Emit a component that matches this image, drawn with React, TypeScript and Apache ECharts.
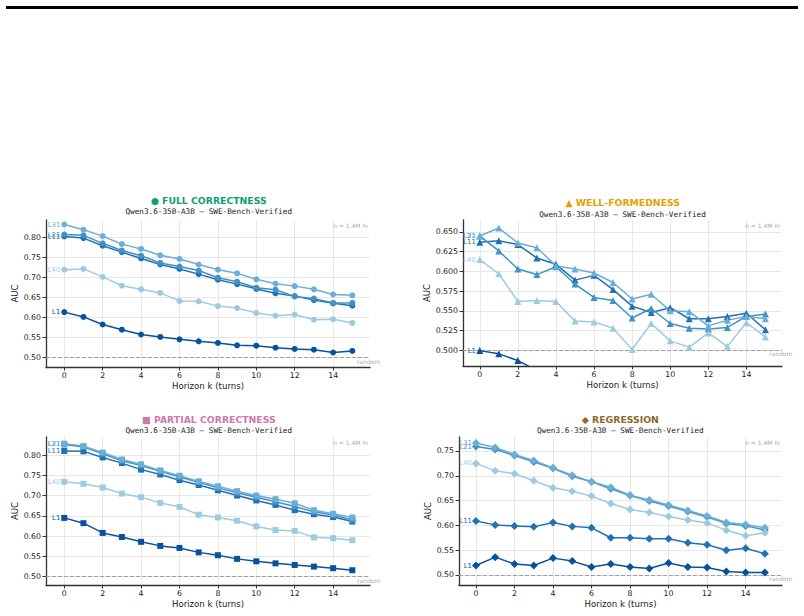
import React, { useEffect, useRef } from "react";
import * as echarts from "echarts";

const FONT = "DejaVu Sans";
const MONO = "DejaVu Sans Mono";

const horizons = [0, 1, 2, 3, 4, 5, 6, 7, 8, 9, 10, 11, 12, 13, 14, 15];
const xTickValues = [0, 2, 4, 6, 8, 10, 12, 14];
const layerNames = ["L1", "L11", "L21", "L31", "L40"];
const layerColors = ["#08519c", "#2171b5", "#4292c6", "#6baed6", "#9ecae1"];

const subtitle = "Qwen3.6-35B-A3B \u2014 SWE-Bench-Verified";

// FULL CORRECTNESS
const fullL1 = [0.614, 0.602, 0.583, 0.570, 0.558, 0.552, 0.546, 0.541, 0.537, 0.531, 0.530, 0.525, 0.522, 0.520, 0.513, 0.517];
const fullL11 = [0.803, 0.799, 0.780, 0.764, 0.748, 0.733, 0.722, 0.709, 0.695, 0.684, 0.672, 0.661, 0.654, 0.644, 0.636, 0.630];
const fullL21 = [0.808, 0.806, 0.786, 0.768, 0.755, 0.737, 0.728, 0.718, 0.700, 0.690, 0.675, 0.670, 0.653, 0.648, 0.637, 0.637];
const fullL31 = [0.833, 0.820, 0.804, 0.784, 0.772, 0.756, 0.747, 0.733, 0.720, 0.711, 0.696, 0.685, 0.679, 0.671, 0.658, 0.656];
const fullL40 = [0.720, 0.722, 0.702, 0.680, 0.671, 0.662, 0.642, 0.641, 0.629, 0.624, 0.612, 0.605, 0.608, 0.595, 0.596, 0.587];

// WELL-FORMEDNESS
const wellL1 = [0.4996, 0.4955, 0.487, 0.4745, null, null, null, null, null, null, null, null, null, null, null, null];
const wellL11 = [0.637, 0.639, 0.634, 0.617, 0.609, 0.589, 0.595, 0.577, 0.556, 0.548, 0.554, 0.540, 0.540, 0.543, 0.547, 0.526];
const wellL21 = [0.645, 0.626, 0.603, 0.596, 0.606, 0.584, 0.567, 0.563, 0.541, 0.553, 0.534, 0.528, 0.527, 0.529, 0.543, 0.546];
const wellL31 = [0.645, 0.655, 0.636, 0.630, 0.607, 0.603, 0.598, 0.586, 0.565, 0.571, 0.550, 0.549, 0.531, 0.538, 0.543, 0.540];
const wellL40 = [0.615, 0.597, 0.562, 0.563, 0.562, 0.537, 0.536, 0.528, 0.501, 0.534, 0.512, 0.504, 0.522, 0.505, 0.535, 0.517];

// PARTIAL CORRECTNESS
const partL1 = [0.645, 0.632, 0.608, 0.598, 0.586, 0.576, 0.571, 0.560, 0.553, 0.544, 0.538, 0.533, 0.529, 0.525, 0.521, 0.516];
const partL11 = [0.810, 0.809, 0.794, 0.780, 0.764, 0.752, 0.738, 0.726, 0.713, 0.700, 0.688, 0.677, 0.664, 0.654, 0.647, 0.636];
const partL21 = [0.826, 0.820, 0.803, 0.786, 0.774, 0.760, 0.746, 0.733, 0.719, 0.707, 0.696, 0.685, 0.673, 0.660, 0.652, 0.640];
const partL31 = [0.828, 0.822, 0.806, 0.789, 0.777, 0.762, 0.749, 0.735, 0.723, 0.711, 0.700, 0.691, 0.681, 0.664, 0.655, 0.646];
const partL40 = [0.734, 0.729, 0.720, 0.705, 0.696, 0.682, 0.672, 0.653, 0.646, 0.638, 0.624, 0.615, 0.613, 0.597, 0.595, 0.590];

// REGRESSION
const regL1 = [0.519, 0.536, 0.522, 0.519, 0.534, 0.528, 0.516, 0.522, 0.516, 0.513, 0.524, 0.516, 0.515, 0.507, 0.505, 0.505];
const regL11 = [0.609, 0.601, 0.599, 0.597, 0.606, 0.598, 0.595, 0.575, 0.575, 0.573, 0.573, 0.565, 0.561, 0.550, 0.554, 0.543];
const regL21 = [0.759, 0.753, 0.741, 0.728, 0.715, 0.699, 0.688, 0.674, 0.660, 0.649, 0.639, 0.628, 0.617, 0.604, 0.599, 0.591];
const regL31 = [0.766, 0.757, 0.743, 0.731, 0.716, 0.701, 0.688, 0.677, 0.661, 0.651, 0.641, 0.630, 0.619, 0.606, 0.602, 0.595];
const regL40 = [0.725, 0.710, 0.704, 0.690, 0.676, 0.669, 0.659, 0.644, 0.632, 0.626, 0.618, 0.611, 0.605, 0.590, 0.579, 0.585];

const yTicksFull = [0.5, 0.55, 0.6, 0.65, 0.7, 0.75, 0.8];
const yTicksWell = [0.5, 0.525, 0.55, 0.575, 0.6, 0.625, 0.65];
const yTicksPart = [0.5, 0.55, 0.6, 0.65, 0.7, 0.75, 0.8];
const yTicksReg = [0.5, 0.55, 0.6, 0.65, 0.7, 0.75];

const panels = [
  {
    title: "\u25CF FULL CORRECTNESS", titleColor: "#109e74", symbol: "circle", symbolSize: 6,
    series: [fullL1, fullL11, fullL21, fullL31, fullL40], yTicks: yTicksFull, dec: 2,
    yMin: 0.4768, yMax: 0.8443, xMin: -0.95, xMax: 15.92,
    grid: { left: 46, top: 220, width: 324, height: 147 }, titleXY: [208.7, 200], subXY: [208.7, 211.5], nameGap: 27,
  },
  {
    title: "\u25B2 WELL-FORMEDNESS", titleColor: "#e69f00", symbol: "triangle", symbolSize: 7,
    series: [wellL1, wellL11, wellL21, wellL31, wellL40], yTicks: yTicksWell, dec: 3,
    yMin: 0.4801, yMax: 0.6652, xMin: -0.88, xMax: 15.87,
    grid: { left: 463, top: 220, width: 319, height: 146 }, titleXY: [622.7, 202.7], subXY: [622.5, 214], nameGap: 30,
  },
  {
    title: "\u25A0 PARTIAL CORRECTNESS", titleColor: "#cc79a7", symbol: "rect", symbolSize: 6,
    series: [partL1, partL11, partL21, partL31, partL40], yTicks: yTicksPart, dec: 2,
    yMin: 0.4796, yMax: 0.8444, xMin: -0.95, xMax: 15.92,
    grid: { left: 46, top: 437, width: 324, height: 148 }, titleXY: [208.8, 419.3], subXY: [208.8, 430.7], nameGap: 27,
  },
  {
    title: "\u25C6 REGRESSION", titleColor: "#8c6a2c", symbol: "diamond", symbolSize: 8,
    series: [regL1, regL11, regL21, regL31, regL40], yTicks: yTicksReg, dec: 2,
    yMin: 0.4798, yMax: 0.7782, xMin: -0.88, xMax: 15.89,
    grid: { left: 459, top: 437, width: 323, height: 148 }, titleXY: [620.3, 419.3], subXY: [620.3, 430.7], nameGap: 27,
  },
];

const axisColor = "#333333";
const gridColor = "#e4e4e4";

export default function App() {
  const ref = useRef<HTMLDivElement>(null);
  useEffect(() => {
    if (!ref.current) return;
    const chart = echarts.init(ref.current, undefined, { renderer: "svg" });

    const grids: any[] = [];
    const xAxes: any[] = [];
    const yAxes: any[] = [];
    const series: any[] = [];

    panels.forEach((p, pi) => {
      grids.push({ ...p.grid, containLabel: false });
      xAxes.push({
        type: "value", gridIndex: pi, min: p.xMin, max: p.xMax,
        name: "Horizon k (turns)", nameLocation: "middle", nameGap: 14,
        nameTextStyle: { fontFamily: FONT, fontSize: 8.6, color: "#222" },
        axisLine: { show: true, onZero: false, lineStyle: { color: axisColor, width: 1.3 } },
        axisTick: { show: true, customValues: xTickValues, length: 3.5, lineStyle: { color: axisColor, width: 1 } },
        axisLabel: { customValues: xTickValues, fontFamily: FONT, fontSize: 7.8, color: "#222", margin: 4.5 },
        splitLine: { show: true, lineStyle: { color: gridColor, width: 0.9 } },
      });
      yAxes.push({
        type: "value", gridIndex: pi, min: p.yMin, max: p.yMax,
        name: "AUC", nameLocation: "middle", nameGap: p.nameGap,
        nameTextStyle: { fontFamily: FONT, fontSize: 8.6, color: "#222" },
        axisLine: { show: true, onZero: false, lineStyle: { color: axisColor, width: 1.3 } },
        axisTick: { show: true, customValues: p.yTicks, length: 3.5, lineStyle: { color: axisColor, width: 1 } },
        axisLabel: {
          customValues: p.yTicks, fontFamily: FONT, fontSize: 7.8, color: "#222", margin: 5,
          formatter: (v: number) => v.toFixed(p.dec),
        },
        splitLine: { show: true, lineStyle: { color: gridColor, width: 0.9 } },
      });
      const labelDist = Math.max(0, 4 - p.symbolSize / 2);
      p.series.forEach((vals, si) => {
        const color = layerColors[si];
        const hasGap = vals.some((v) => v === null);
        const data = vals.map((v, i) => {
          if (v === null) return [horizons[i], null];
          if (i === 0) {
            return {
              value: [horizons[i], v],
              label: {
                show: true, position: "left", distance: labelDist, formatter: layerNames[si],
                color, fontFamily: FONT, fontSize: 6.8,
              },
            };
          }
          return [horizons[i], v];
        });
        const s: any = {
          type: "line", name: layerNames[si], xAxisIndex: pi, yAxisIndex: pi,
          data, symbol: p.symbol, symbolSize: p.symbolSize, clip: hasGap,
          lineStyle: { color, width: 1.5 }, itemStyle: { color },
          label: { show: false }, connectNulls: false, z: 3,
        };
        if (si === 0) {
          s.markLine = {
            silent: true, symbol: "none", label: { show: false },
            lineStyle: { color: "#a0a0a0", type: [4, 2], width: 1 },
            data: [{ yAxis: 0.5 }], z: 1,
          };
        }
        series.push(s);
      });
    });

    chart.setOption({
      animation: false,
      backgroundColor: "#ffffff",
      grid: grids, xAxis: xAxes, yAxis: yAxes, series,
    });

    const graphics: any[] = [
      { type: "rect", shape: { x: 6, y: 6, width: 792, height: 3 }, style: { fill: "#000" } },
    ];
    panels.forEach((p, pi) => {
      graphics.push({
        type: "text", x: p.titleXY[0], y: p.titleXY[1],
        style: { text: p.title, fill: p.titleColor, font: `bold 9.3px '${FONT}'`, align: "center", verticalAlign: "middle" },
      });
      graphics.push({
        type: "text", x: p.subXY[0], y: p.subXY[1],
        style: { text: subtitle, fill: "#222", font: `7.7px '${MONO}'`, align: "center", verticalAlign: "middle" },
      });
      const tr = chart.convertToPixel({ gridIndex: pi } as any, [p.xMax, p.yMax]) as number[];
      const rd = chart.convertToPixel({ gridIndex: pi } as any, [p.xMax, 0.5]) as number[];
      graphics.push({
        type: "text", x: tr[0] - 2, y: tr[1] + 5,
        style: {
          text: "n = 1.4M {h|h}{t|t}", fill: "#aaaaaa", font: `6px '${FONT}'`, align: "right", verticalAlign: "middle",
          rich: {
            h: { fontStyle: "italic", fontSize: 6, fontFamily: FONT, fill: "#aaaaaa" },
            t: { fontSize: 4.5, fontFamily: FONT, fill: "#aaaaaa", padding: [3, 0, 0, 0] },
          },
        },
      });
      graphics.push({
        type: "text", x: rd[0] - 13, y: rd[1] + 3.5,
        style: { text: "random", fill: "#aaaaaa", font: `6px '${FONT}'`, align: "left", verticalAlign: "middle" },
      });
    });
    chart.setOption({ graphic: graphics });

    return () => chart.dispose();
  }, []);
  return <div ref={ref} style={{ position: "fixed", left: 0, top: 0, width: 804, height: 616 }} />;
}
